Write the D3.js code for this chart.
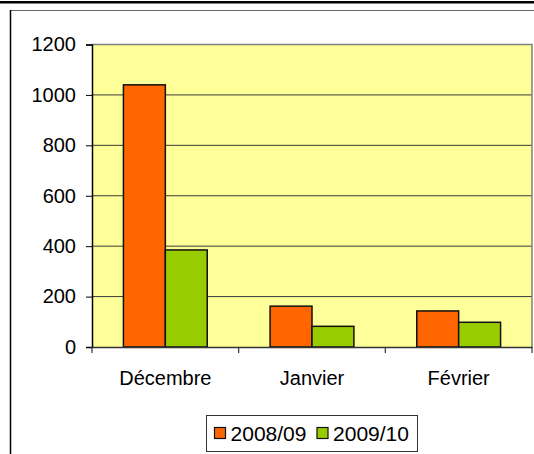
<!DOCTYPE html>
<html>
<head>
<meta charset="utf-8">
<script src="https://cdn.jsdelivr.net/npm/d3@7"></script>
<style>
  html, body { margin: 0; padding: 0; background: #fff; }
  svg { display: block; }
  text { font-family: Arial, "Liberation Sans", sans-serif; fill: #000; }
</style>
</head>
<body>
<svg id="chart" width="534" height="454"></svg>
<script>
const categories = ["Décembre", "Janvier", "Février"];
const seriesNames = ["2008/09", "2009/10"];
const values2008 = [1040, 162, 143];
const values2009 = [385, 82, 98];
const yTicks = [0, 200, 400, 600, 800, 1000, 1200];
const colors = ["#FF6600", "#99CC00"];

const svg = d3.select("#chart");
const W = 534, H = 454;
const plot = { left: 92, top: 44.5, right: 532, bottom: 347 };
const FS = 20;

// outer page lines
svg.append("rect").attr("x", 0).attr("y", 1).attr("width", W).attr("height", 2.5).attr("fill", "#000");
svg.append("line").attr("x1", 10).attr("x2", W).attr("y1", 10.5).attr("y2", 10.5)
  .attr("stroke", "#666").attr("stroke-width", 1);
svg.append("line").attr("x1", 10.5).attr("x2", 10.5).attr("y1", 10).attr("y2", H)
  .attr("stroke", "#000").attr("stroke-width", 1.5);

const x = d3.scaleBand().domain(categories).range([plot.left, plot.right]).padding(0);
const y = d3.scaleLinear().domain([0, 1200]).range([plot.bottom, plot.top]);

// plot background
svg.append("rect").attr("x", plot.left).attr("y", plot.top)
  .attr("width", plot.right - plot.left).attr("height", plot.bottom - plot.top)
  .attr("fill", "#FFFF99");

// gridlines
svg.append("g").selectAll("line").data(yTicks.filter(d => d > 0 && d < 1200)).join("line")
  .attr("x1", plot.left).attr("x2", plot.right)
  .attr("y1", d => y(d)).attr("y2", d => y(d))
  .attr("stroke", "#3a3a3a").attr("stroke-width", 1);

// plot border top and right (gray)
svg.append("path")
  .attr("d", `M${plot.left},${plot.top}H${plot.right}V${plot.bottom}`)
  .attr("fill", "none").attr("stroke", "#808080").attr("stroke-width", 1.5);

// bars
const groupW = x.bandwidth();
const barW = groupW / 3.5;
const offset = barW * 0.75;
const seriesData = [values2008, values2009];
seriesData.forEach((vals, si) => {
  svg.append("g").selectAll("rect").data(categories).join("rect")
    .attr("x", (c) => x(c) + offset + si * barW)
    .attr("y", (c, i) => y(vals[i]))
    .attr("width", barW)
    .attr("height", (c, i) => y(0) - y(vals[i]))
    .attr("fill", colors[si])
    .attr("stroke", "#111").attr("stroke-width", 1.5);
});

// y axis
const yAxis = d3.axisLeft(y).tickValues(yTicks).tickSize(6).tickPadding(10).tickFormat(d3.format("d"));
const gy = svg.append("g").attr("transform", `translate(${plot.left},0)`).call(yAxis);
gy.select(".domain").attr("stroke", "#000").attr("stroke-width", 1.5);
gy.selectAll(".tick line").attr("stroke", "#000");
gy.selectAll("text").attr("font-size", FS).attr("font-family", "Arial, 'Liberation Sans', sans-serif").attr("fill", "#000");

// x axis
const xAxis = d3.axisBottom(x).tickSize(0).tickPadding(0);
const gx = svg.append("g").attr("transform", `translate(0,${plot.bottom})`).call(xAxis);
gx.select(".domain").attr("stroke", "#333").attr("stroke-width", 1.5);
gx.selectAll(".tick text").attr("font-size", FS).attr("dy", null).attr("y", 38)
  .attr("font-family", "Arial, 'Liberation Sans', sans-serif").attr("fill", "#000");
// category separator ticks
svg.append("g").selectAll("line").data(d3.range(categories.length + 1)).join("line")
  .attr("x1", i => plot.left + i * groupW).attr("x2", i => plot.left + i * groupW)
  .attr("y1", plot.bottom).attr("y2", plot.bottom + 6)
  .attr("stroke", "#333").attr("stroke-width", 1.2);

// legend
const lg = svg.append("g");
lg.append("rect").attr("x", 206.5).attr("y", 415.5).attr("width", 211).attr("height", 36)
  .attr("fill", "#fff").attr("stroke", "#333").attr("stroke-width", 1);
const legX = [214.5, 317];
seriesNames.forEach((n, i) => {
  lg.append("rect").attr("x", legX[i]).attr("y", 427.5).attr("width", 11).attr("height", 11)
    .attr("fill", colors[i]).attr("stroke", "#111").attr("stroke-width", 1.2);
  lg.append("text").attr("x", legX[i] + 16).attr("y", 440.5).attr("font-size", FS)
    .attr("textLength", 76).attr("lengthAdjust", "spacingAndGlyphs").text(n);
});
</script>
</body>
</html>
